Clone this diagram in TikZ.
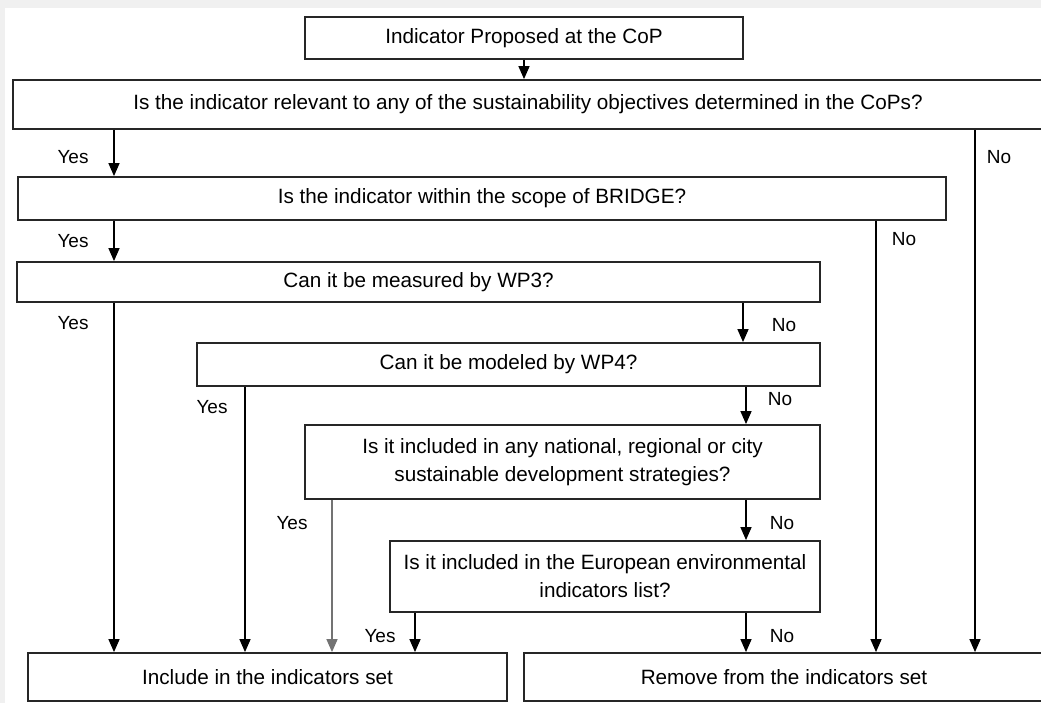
\documentclass[tikz,border=0pt]{standalone}
\usepackage{fontspec}
\setmainfont{Liberation Sans}
\usetikzlibrary{arrows.meta}
\begin{document}
\begin{tikzpicture}[x=1pt,y=-1pt,
  box/.style={draw=black!85, line width=1.8pt, inner sep=0pt, align=center,
    font=\fontsize{20.7}{28}\selectfont},
  lbl/.style={font=\fontsize{19}{24}\selectfont, inner sep=0pt},
  arr/.style={draw=black, line width=1.4pt, -{Triangle[width=11pt,length=13pt]}},
  garr/.style={arr, draw=black!55}]
\clip (0,0) rectangle (1041,703);
\fill[black!6] (0,0) rectangle (1041,703);
\fill[white] (5,8) rectangle (1041,703);
% boxes
\node[box, minimum width=438, minimum height=42] (n1) at (524,38) {Indicator Proposed at the CoP};
\node[box, minimum width=1034, minimum height=49] (n2) at (530,104.5) {\hspace*{-4pt}Is the indicator relevant to any of the sustainability objectives determined in the CoPs?};
\node[box, minimum width=928, minimum height=43] (n3) at (482,198.5) {Is the indicator within the scope of BRIDGE?};
\node[box, minimum width=803, minimum height=40] (n4) at (418.5,282) {Can it be measured by WP3?};
\node[box, minimum width=623, minimum height=43] (n5) at (508.5,364.5) {Can it be modeled by WP4?};
\node[box, minimum width=515, minimum height=74] (n6) at (562.5,462) {Is it included in any national, regional or city\\sustainable development strategies?};
\node[box, minimum width=430, minimum height=71] (n7) at (605,576.5) {Is it included in the European environmental\\indicators list?};
\node[box, minimum width=479, minimum height=48] (n8) at (267.5,677) {Include in the indicators set};
\node[box, minimum width=520, minimum height=48] (n9) at (784,677) {Remove from the indicators set};
% x positions of vertical connectors
\coordinate (xA) at (114,0);
\coordinate (xB) at (245,0);
\coordinate (xC) at (332,0);
\coordinate (xD) at (415,0);
\coordinate (xE) at (743,0);
\coordinate (xF) at (746,0);
\coordinate (xG) at (876,0);
\coordinate (xH) at (975,0);
% connectors
\draw[arr] (n1.south) -- (n1.south |- n2.north);
\draw[arr] (n2.south -| xA) -- (n3.north -| xA);
\draw[arr] (n2.south -| xH) -- (n9.north -| xH);
\draw[arr] (n3.south -| xA) -- (n4.north -| xA);
\draw[arr] (n3.south -| xG) -- (n9.north -| xG);
\draw[arr] (n4.south -| xA) -- (n8.north -| xA);
\draw[arr] (n4.south -| xE) -- (n5.north -| xE);
\draw[arr] (n5.south -| xB) -- (n8.north -| xB);
\draw[arr] (n5.south -| xF) -- (n6.north -| xF);
\draw[garr] (n6.south -| xC) -- (n8.north -| xC);
\draw[arr] (n6.south -| xF) -- (n7.north -| xF);
\draw[arr] (n7.south -| xD) -- (n8.north -| xD);
\draw[arr] (n7.south -| xF) -- (n9.north -| xF);
% labels
\node[lbl] (y1) at (73,157) {Yes};
\node[lbl] (no1) at (999,157) {No};
\node[lbl] (y2) at (73,241) {Yes};
\node[lbl] (no2) at (904,239) {No};
\node[lbl] (y3) at (73,323) {Yes};
\node[lbl] (no3) at (784,325) {No};
\node[lbl] (y4) at (212,407) {Yes};
\node[lbl] (no4) at (780,399) {No};
\node[lbl] (y5) at (292,523) {Yes};
\node[lbl] (no5) at (782,523) {No};
\node[lbl] (y6) at (380,636) {Yes};
\node[lbl] (no6) at (782,636) {No};
\end{tikzpicture}
\end{document}
